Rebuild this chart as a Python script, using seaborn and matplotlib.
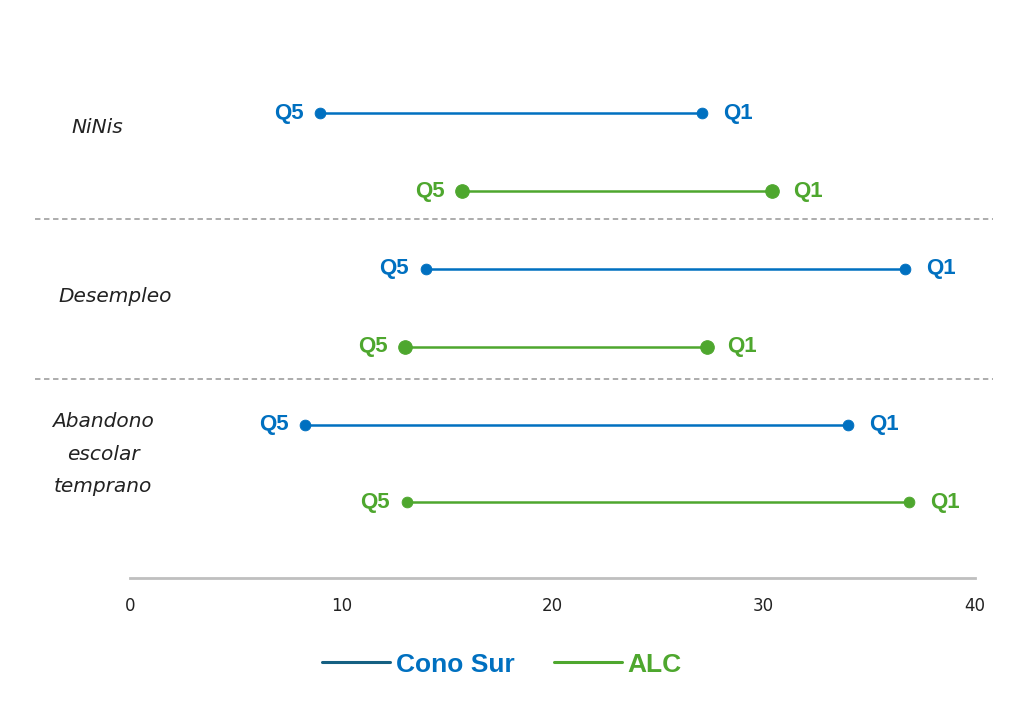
import matplotlib
matplotlib.use("Agg")
from matplotlib import pyplot as plt
from matplotlib.lines import Line2D
import pandas as pd
import seaborn as sns

# valores (porcentajes)
indicadores = ["NiNis", "Desempleo", "Abandono\nescolar\ntemprano"]
grupos = ["Cono Sur", "ALC"]
q5_cono = [9.0, 14.0, 8.3]
q1_cono = [27.1, 36.7, 34.0]
q5_alc = [15.7, 13.0, 13.1]
q1_alc = [30.4, 27.3, 36.9]
xticks = [0, 10, 20, 30, 40]

azul = "#0070C0"
verde = "#4EA72E"
azul_leyenda = "#156082"

rows = []
for i, ind in enumerate(indicadores):
    rows.append((ind, "Cono Sur", 2 * i, q5_cono[i], q1_cono[i]))
    rows.append((ind, "ALC", 2 * i + 1, q5_alc[i], q1_alc[i]))
df = pd.DataFrame(rows, columns=["indicador", "grupo", "fila", "q5", "q1"])

sns.set_style("white")
plt.rcParams["font.family"] = ["DejaVu Sans"]

fig = plt.figure(figsize=(10.24, 7.17), dpi=100)
ax = fig.add_axes([0.127, 0.194, 0.825, 0.750])

tam = {0: 60, 1: 95, 2: 60, 3: 95, 4: 60, 5: 60}
for _, r in df.iterrows():
    col = azul if r.grupo == "Cono Sur" else verde
    ax.plot([r.q5, r.q1], [r.fila, r.fila], color=col, lw=1.8, zorder=2)
    sns.scatterplot(x=[r.q5, r.q1], y=[r.fila, r.fila], color=col, s=tam[r.fila],
                    edgecolor=col, ax=ax, zorder=3, legend=False)
    ax.annotate("Q5", (r.q5, r.fila), xytext=(-12, 0), textcoords="offset points",
                ha="right", va="center", color=col, fontsize=16, fontweight="bold",
                family="Liberation Sans")
    ax.annotate("Q1", (r.q1, r.fila), xytext=(15, 0), textcoords="offset points",
                ha="left", va="center", color=col, fontsize=16, fontweight="bold",
                family="Liberation Sans")

# etiquetas de indicadores
pos_lab = [(-0.039, 0.18), (-0.017, 2.36), (-0.032, 4.38)]
for (xa, yd), ind in zip(pos_lab, indicadores):
    ax.text(xa, yd, ind, transform=ax.get_yaxis_transform(), ha="center", va="center",
            fontsize=14.5, style="italic", color="#222222", linespacing=1.9)

# separadores
for yd in [1.36, 3.42]:
    ax.plot([-0.112, 1.021], [yd, yd], transform=ax.get_yaxis_transform(),
            color="#A6A6A6", lw=1.3, ls=(0, (3, 2)), clip_on=False)

ax.set_xlim(0, 40)
ax.set_ylim(5.97, -0.94)
ax.set_xticks(xticks)
ax.set_xticklabels([str(t) for t in xticks], fontsize=12, color="#222222")
ax.set_yticks([])
ax.tick_params(axis="x", length=0, pad=14)
for s in ["top", "right", "left"]:
    ax.spines[s].set_visible(False)
ax.spines["bottom"].set_color("#BFBFBF")
ax.spines["bottom"].set_linewidth(2)
ax.set_xlabel("")
ax.set_ylabel("")

handles = [Line2D([0], [0], color=azul_leyenda, lw=2.2),
           Line2D([0], [0], color=verde, lw=2.2)]
fig.legend(handles, grupos, loc="center", bbox_to_anchor=(0.49, 0.073), ncol=2,
           frameon=False, labelcolor=[azul, verde], handlelength=2.6,
           handletextpad=0.2, columnspacing=1.5,
           prop={"size": 19, "weight": "bold", "family": "Liberation Sans"})

fig.savefig("out.png", dpi=100)
